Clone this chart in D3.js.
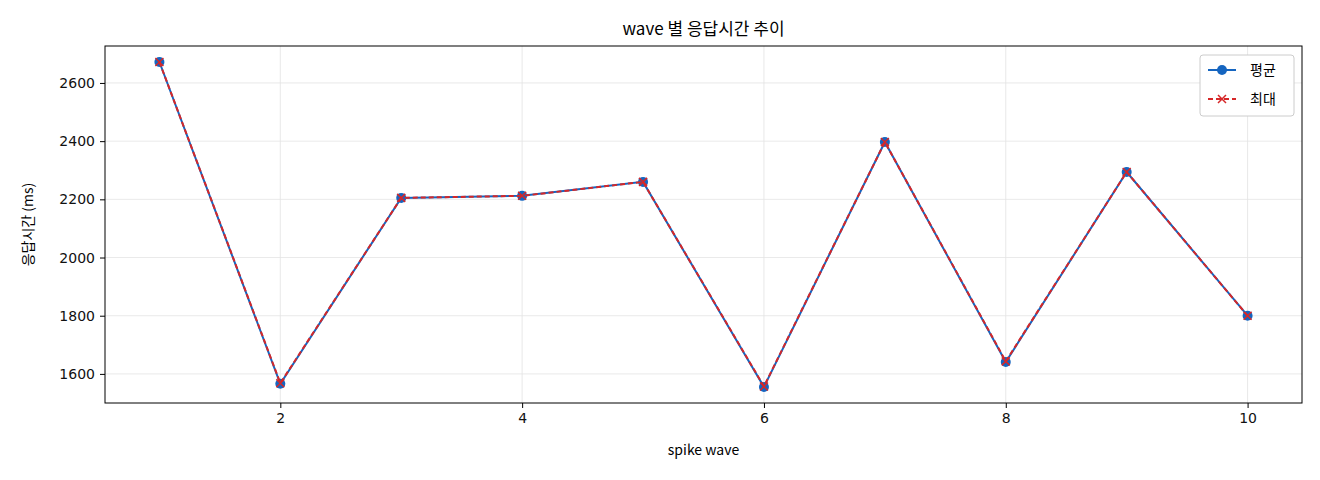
<!DOCTYPE html>
<html><head><meta charset="utf-8">
<script src="https://cdn.jsdelivr.net/npm/d3@7"></script>
<style>body{margin:0;background:#fff;font-family:"Noto Sans CJK KR","DejaVu Sans",sans-serif}</style>
</head><body><svg id="c" width="1320" height="480"></svg>
<script>
// chart data
var waves = [1,2,3,4,5,6,7,8,9,10];
var avgMs = [2672,1566,2205,2212,2260,1555,2397,1641,2294,1800];
var maxMs = [2672,1568,2205,2212,2260,1557,2397,1643,2294,1800];
var xTicks = [2,4,6,8,10];
var yTicks = [1600,1800,2000,2200,2400,2600];

var svg = d3.select("#c");
var L = 105, R = 1302, T = 46, B = 403;
var x = d3.scaleLinear().domain([0.55,10.45]).range([L,R]);
var y = d3.scaleLinear().domain([1500,2727]).range([B,T]);

// grid
svg.selectAll(".gx").data(xTicks).enter().append("line")
  .attr("x1",d=>x(d)).attr("x2",d=>x(d)).attr("y1",T).attr("y2",B)
  .attr("stroke","#e3e3e3").attr("stroke-width",0.8);
svg.selectAll(".gy").data(yTicks).enter().append("line")
  .attr("y1",d=>y(d)).attr("y2",d=>y(d)).attr("x1",L).attr("x2",R)
  .attr("stroke","#e3e3e3").attr("stroke-width",0.8);

// axes
var xa = svg.append("g").attr("transform","translate(0,"+B+")")
  .call(d3.axisBottom(x).tickValues(xTicks).tickFormat(d3.format("d")).tickSize(5).tickPadding(5));
var ya = svg.append("g").attr("transform","translate("+L+",0)")
  .call(d3.axisLeft(y).tickValues(yTicks).tickFormat(d3.format("d")).tickSize(5).tickPadding(5));
[xa,ya].forEach(g=>{g.select(".domain").remove();
  g.attr("font-family","DejaVu Sans").attr("font-size",14);
  g.selectAll("text").attr("fill","#111");});
svg.append("rect").attr("x",L).attr("y",T).attr("width",R-L).attr("height",B-T)
  .attr("fill","none").attr("stroke","#000").attr("stroke-width",1);

// lines
var lineAvg = d3.line().x((d,i)=>x(waves[i])).y(d=>y(d));
svg.append("path").datum(avgMs).attr("d",lineAvg).attr("fill","none")
  .attr("stroke","#1565c0").attr("stroke-width",2);
svg.selectAll(".pa").data(avgMs).enter().append("circle")
  .attr("cx",(d,i)=>x(waves[i])).attr("cy",d=>y(d)).attr("r",5).attr("fill","#1565c0");
svg.append("path").datum(maxMs).attr("d",lineAvg).attr("fill","none")
  .attr("stroke","#d62728").attr("stroke-width",2).attr("stroke-dasharray","5,3");
var s = 4;
maxMs.forEach(function(d,i){
  var cx = x(waves[i]), cy = y(d);
  svg.append("path").attr("d","M"+(cx-s)+","+(cy-s)+"L"+(cx+s)+","+(cy+s)+"M"+(cx-s)+","+(cy+s)+"L"+(cx+s)+","+(cy-s))
    .attr("stroke","#d62728").attr("stroke-width",1.5);
});

// titles
svg.append("text").attr("x",(L+R)/2).attr("y",35).attr("text-anchor","middle")
  .attr("font-size",17).text("wave 별 응답시간 추이");
svg.append("text").attr("x",(L+R)/2).attr("y",455).attr("text-anchor","middle")
  .attr("font-size",14).text("spike wave");
svg.append("text").attr("transform","translate(33,"+((T+B)/2)+") rotate(-90)")
  .attr("text-anchor","middle").attr("font-size",14).text("응답시간 (ms)");

// legend
var lg = svg.append("g").attr("transform","translate(1200,55)");
lg.append("rect").attr("width",94).attr("height",61).attr("rx",3)
  .attr("fill","#fff").attr("stroke","#ccc");
lg.append("line").attr("x1",8).attr("x2",36).attr("y1",15).attr("y2",15).attr("stroke","#1565c0").attr("stroke-width",2);
lg.append("circle").attr("cx",22).attr("cy",15).attr("r",5).attr("fill","#1565c0");
lg.append("text").attr("x",50).attr("y",20).attr("font-size",14).text("평균");
lg.append("line").attr("x1",8).attr("x2",36).attr("y1",44).attr("y2",44).attr("stroke","#d62728").attr("stroke-width",2).attr("stroke-dasharray","5,3");
lg.append("path").attr("d","M18,40L26,48M18,48L26,40").attr("stroke","#d62728").attr("stroke-width",1.5);
lg.append("text").attr("x",50).attr("y",49).attr("font-size",14).text("최대");
</script></body></html>
